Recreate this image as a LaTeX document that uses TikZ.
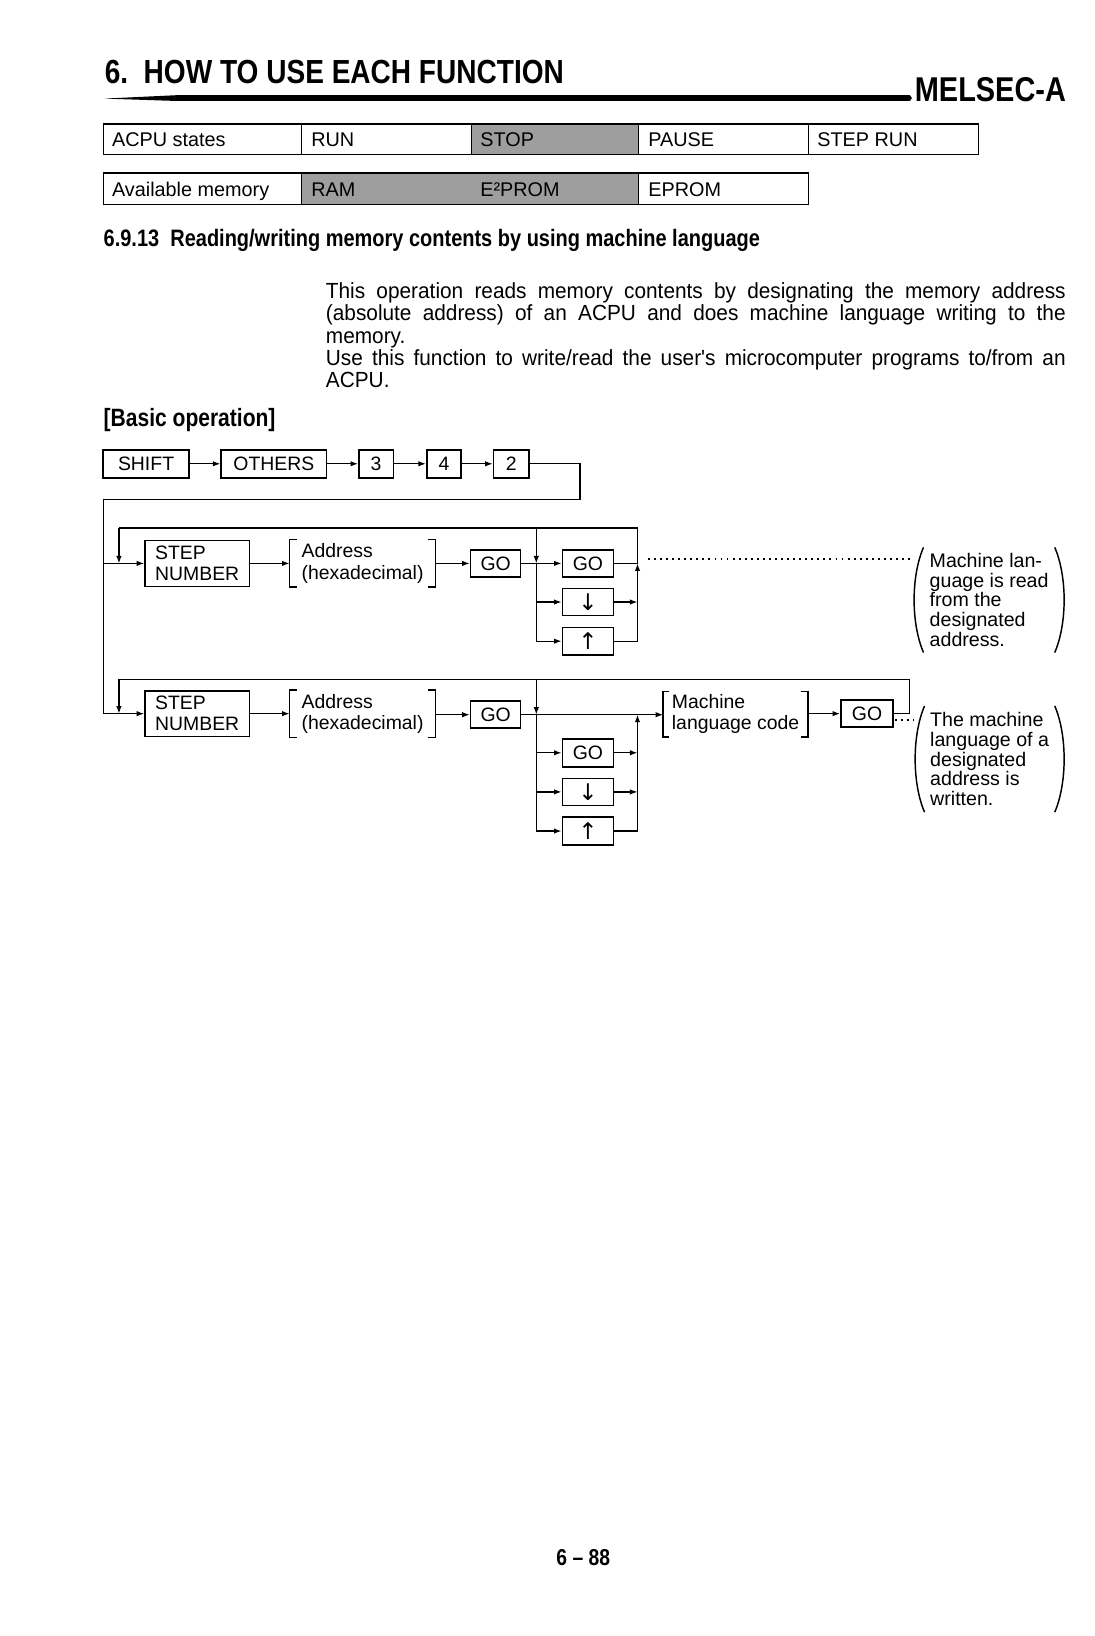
\documentclass[tikz,border=0pt]{standalone}
\usepackage{fontspec}
\setmainfont{Liberation Sans}
\newfontfamily\condsf[FakeStretch=0.84]{Liberation Sans}
\newfontfamily\bodysf[FakeStretch=0.95]{Liberation Sans}
\newfontfamily\symf{DejaVu Sans}
\usetikzlibrary{arrows.meta}
\newcommand\diagf{\fontsize{9.3}{10.2}\selectfont}
\newcommand\notef{\fontsize{9.4}{9.5}\selectfont}
\newcommand\bodyf{\bodysf\fontsize{10.5}{10.5}\selectfont}
\newcommand\tabf{\fontsize{9.5}{10}\selectfont}
\newcommand\arrf{\symf\fontsize{11}{11}\selectfont}
\begin{document}
\begin{tikzpicture}[x=0.5pt,y=-0.5pt,
  keybox/.style={draw, line width=0.8pt, inner sep=0pt, font=\diagf, minimum height=13.5pt},
  conn/.style={line width=0.6pt},
  arr/.style={conn, -{Latex[length=3.6pt,width=2.6pt]}},
  brk/.style={inner sep=0pt, align=left, font=\diagf, minimum width=69.5pt, minimum height=22.5pt},
  bline/.style={line width=0.8pt},
  notebox/.style={inner sep=0pt, align=left, font=\notef, minimum width=72.5pt, minimum height=50pt},
  dots/.style={line width=0.9pt, dash pattern=on 0.9pt off 2pt},
  txt/.style={anchor=base west, inner sep=0pt},
  tab/.style={line width=0.7pt}]
\fill[white] (0,0) rectangle (1049,1568);
\useasboundingbox (0,0) rectangle (1049,1568);

% header
\node[txt, font=\condsf\bfseries\fontsize{16}{16}\selectfont] (title) at (100,80) {6.\ \ HOW TO USE EACH FUNCTION};
\fill (100,94.5) -- (170,91.2) -- (872,91.2) -- (874,94) -- (872,96.8) -- (170,96.8) -- cycle;
\node[anchor=base east, inner sep=0pt, font=\condsf\bfseries\fontsize{16.5}{16.5}\selectfont] (mel) at (1022,97) {MELSEC-A};

% table 1
\fill[black!38] (452,119) rectangle (612,148);
\draw[tab] (99,119) rectangle (938,148);
\foreach \xx in {289,452,612,775} \draw[tab] (\xx,119) -- (\xx,148);
\node[txt, font=\tabf] (t11) at (107,140) {ACPU states};
\node[txt, font=\tabf] (t12) at (298,140) {RUN};
\node[txt, font=\tabf] (t13) at (460,140) {STOP};
\node[txt, font=\tabf] (t14) at (621,140) {PAUSE};
\node[txt, font=\tabf] (t15) at (783,140) {STEP RUN};

% table 2
\fill[black!38] (289,166) rectangle (612,196);
\draw[tab] (99,166) rectangle (775,196);
\foreach \xx in {289,612} \draw[tab] (\xx,166) -- (\xx,196);
\node[txt, font=\tabf] (t21) at (107,188) {Available memory};
\node[txt, font=\tabf] (t22) at (298,188) {RAM};
\node[txt, font=\tabf] (t23) at (460,188) {E²PROM};
\node[txt, font=\tabf] (t24) at (621,188) {EPROM};

% section heading
\node[txt, font=\condsf\bfseries\fontsize{11.4}{11.4}\selectfont] (sec) at (99,236) {6.9.13\ \ Reading/writing memory contents by using machine language};

% paragraph
\node[txt, font=\bodyf] (p1) at (312,286) {\makebox[354.5pt][s]{This operation reads memory contents by designating the memory address}};
\node[txt, font=\bodyf] (p2) at (312,307) {\makebox[354.5pt][s]{(absolute address) of an ACPU and does machine language writing to the}};
\node[txt, font=\bodyf] (p3) at (312,329) {memory.};
\node[txt, font=\bodyf] (p4) at (312,350) {\makebox[354.5pt][s]{Use this function to write/read the user's microcomputer programs to/from an}};
\node[txt, font=\bodyf] (p5) at (312,371) {ACPU.};

\node[txt, font=\condsf\bfseries\fontsize{12}{12}\selectfont] (basic) at (99,409) {[Basic operation]};

% key sequence
\node[keybox, minimum width=41pt] (shift) at (140,444.5) {SHIFT};
\node[keybox, minimum width=50.5pt] (others) at (262.5,444.5) {OTHERS};
\node[keybox, minimum width=16.5pt] (k3) at (360.5,444.5) {3};
\node[keybox, minimum width=16.5pt] (k4) at (425.5,444.5) {4};
\node[keybox, minimum width=17pt] (k2) at (490,444.5) {2};
\draw[arr] (shift) -- (others);
\draw[arr] (others) -- (k3);
\draw[arr] (k3) -- (k4);
\draw[arr] (k4) -- (k2);
\coordinate (c1) at (556,479);
\coordinate (c2) at (99,479);

% ---- row 1 (read)
\node[keybox, minimum width=50pt, minimum height=22pt, align=left] (step1) at (189,540) {STEP\\NUMBER};
\node[brk] (addr1) at (347.5,540) {Address\\(hexadecimal)};
\node[keybox, minimum width=24pt, minimum height=13pt] (go1) at (475,540) {GO};
\node[keybox, minimum width=24.5pt, minimum height=13pt] (goa) at (563.5,540) {GO};
\node[keybox, minimum width=24.5pt, minimum height=13pt, font=\arrf] (dn1) at (563.5,577) {↓};
\node[keybox, minimum width=24.5pt, minimum height=13pt, font=\arrf] (up1) at (563.5,614.5) {↑};
\node[notebox] (note1) at (948,575) {Machine lan-\\guage is read\\from the\\designated\\address.};

% ---- row 2 (write) nodes
\node[keybox, minimum width=50pt, minimum height=22pt, align=left] (step2) at (189,684) {STEP\\NUMBER};
\node[brk] (addr2) at (347.5,684) {Address\\(hexadecimal)};
\node[keybox, minimum width=24pt, minimum height=13pt] (go2) at (475,685) {GO};
\node[keybox, minimum width=24.5pt, minimum height=13.5pt] (gob) at (563.5,721.5) {GO};
\node[keybox, minimum width=24.5pt, minimum height=13pt, font=\arrf] (dn2) at (563.5,759) {↓};
\node[keybox, minimum width=24.5pt, minimum height=13.5pt, font=\arrf] (up2) at (563.5,796.5) {↑};
\node[brk, minimum width=69pt, minimum height=21.5pt] (mlc) at (705,684.5) {Machine\\language code};
\node[keybox, minimum width=25pt, minimum height=13pt] (go3) at (831,684) {GO};
\node[notebox, minimum width=72pt, minimum height=50.5pt] (note2) at (948.5,727.5) {The machine\\language of a\\designated\\address is\\written.};

% entry lines
\draw[arr] (k2.east) -| (c1) -- (c2) |- (step2.west);
\draw[arr] (c2 |- step1.west) -- (step1.west);

% row 1 connectors
\draw[bline] ([xshift=3.5pt]addr1.north west) -- (addr1.north west) -- (addr1.south west) -- ([xshift=3.5pt]addr1.south west);
\draw[bline] ([xshift=-3.5pt]addr1.north east) -- (addr1.north east) -- (addr1.south east) -- ([xshift=-3.5pt]addr1.south east);

\coordinate (t1L) at (114,506);
\coordinate (t1R) at (611,506);
\coordinate (b1L) at (514,506);
\coordinate (j1) at (514,540);
\coordinate (r1) at (611,540);

\draw[conn] (t1R) -- (t1L);
\draw[arr] (t1L) -- (t1L |- step1.west);
\draw[arr] (step1) -- (addr1);
\draw[arr] (addr1) -- (go1);
\draw[conn] (go1.east) -- (j1);
\draw[arr] (j1) -- (goa.west);
\draw[arr] (b1L) -- (j1);
\draw[arr] (j1) |- (up1.west);
\draw[arr] (j1 |- dn1.west) -- (dn1.west);
\draw[conn] (goa.east) -- (r1) -- (t1R);
\draw[arr] (up1.east) -| (r1);
\draw[arr] (dn1.east) -- (dn1.east -| r1);
\coordinate (d1s) at (621,536);
\draw[dots] (d1s) -- (d1s -| note1.west);

% row 2 connectors
\draw[bline] ([xshift=3.5pt]addr2.north west) -- (addr2.north west) -- (addr2.south west) -- ([xshift=3.5pt]addr2.south west);
\draw[bline] ([xshift=-3.5pt]addr2.north east) -- (addr2.north east) -- (addr2.south east) -- ([xshift=-3.5pt]addr2.south east);
\draw[bline] ([xshift=3pt]mlc.north west) -- (mlc.north west) -- (mlc.south west) -- ([xshift=3pt]mlc.south west);
\draw[bline] ([xshift=-3.5pt]mlc.north east) -- (mlc.north east) -- (mlc.south east) -- ([xshift=-3.5pt]mlc.south east);

\coordinate (t2L) at (114,651);
\coordinate (t2R) at (872,651);
\coordinate (b2L) at (514,651);
\coordinate (j2) at (514,685);
\coordinate (r2) at (611,685);

\draw[conn] (go3.east) -| (t2R) -- (t2L);
\draw[arr] (t2L) -- (t2L |- step2.west);
\draw[arr] (step2) -- (addr2);
\draw[arr] (addr2.east |- go2.west) -- (go2.west);
\draw[conn] (go2.east) -- (j2);
\draw[arr] (j2) -- (mlc.west |- j2);
\draw[arr] (b2L) -- (j2);
\draw[arr] (j2) |- (up2.west);
\draw[arr] (j2 |- gob.west) -- (gob.west);
\draw[arr] (j2 |- dn2.west) -- (dn2.west);
\draw[arr] (up2.east) -| (r2);
\draw[arr] (gob.east) -- (gob.east -| r2);
\draw[arr] (dn2.east) -- (dn2.east -| r2);
\draw[arr] (mlc.east |- go3.west) -- (go3.west);
\coordinate (d2s) at (858,690);
\draw[dots] (d2s) -- (d2s -| note2.west);

% parentheses of the notes
\foreach \nn in {note1,note2} {
  \draw[line width=0.7pt] ([xshift=5pt]\nn.north west) .. controls ([xshift=-1pt,yshift=-14pt]\nn.north west) and ([xshift=-1pt,yshift=14pt]\nn.south west) .. ([xshift=5pt]\nn.south west);
  \draw[line width=0.7pt] ([xshift=-5pt]\nn.north east) .. controls ([xshift=1pt,yshift=-14pt]\nn.north east) and ([xshift=1pt,yshift=14pt]\nn.south east) .. ([xshift=-5pt]\nn.south east);
}

% page number
\node[anchor=base, inner sep=0pt, font=\condsf\bfseries\fontsize{11}{11}\selectfont] (page) at (559,1500) {6 – 88};
\end{tikzpicture}
\end{document}
